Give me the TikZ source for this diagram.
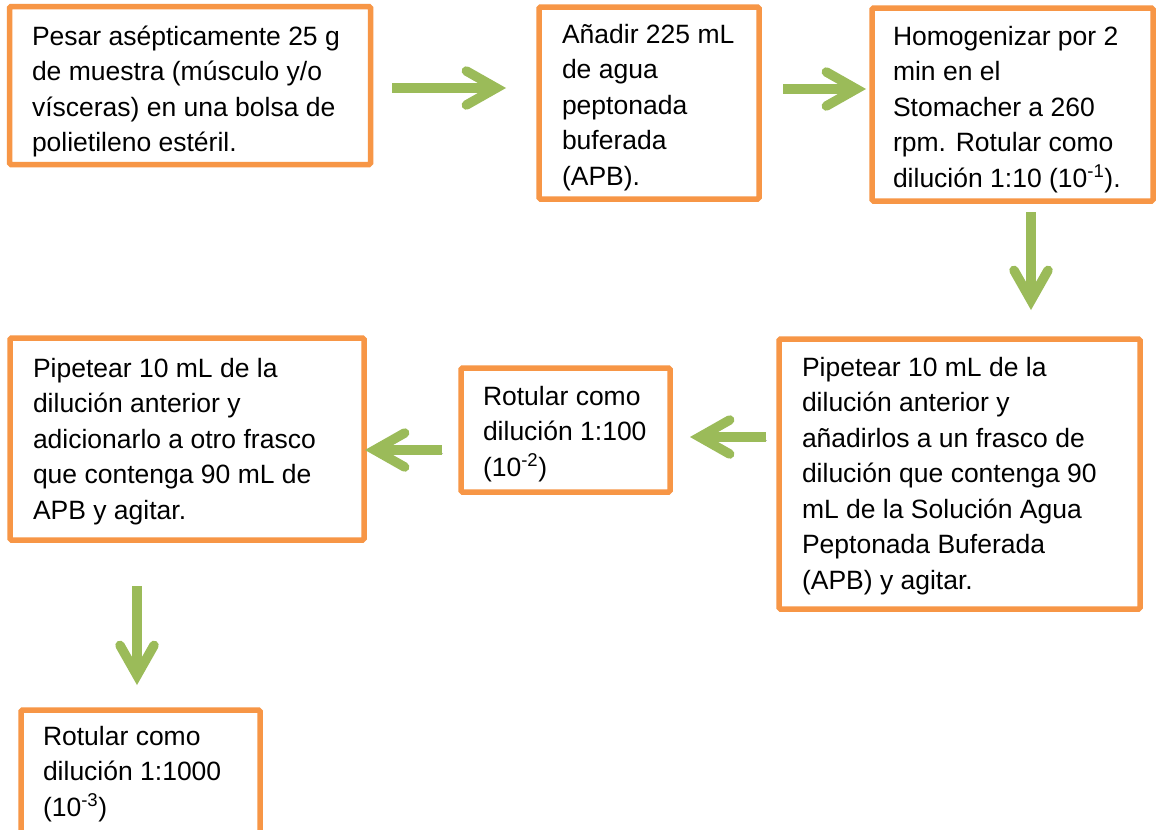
\documentclass[tikz,border=0pt]{standalone}
\usepackage{fontspec}
\setmainfont{Liberation Sans}
\usetikzlibrary{arrows.meta}
\definecolor{boxorange}{HTML}{F79646}
\definecolor{arrowgreen}{HTML}{9BBB59}
\begin{document}
\begin{tikzpicture}[x=1pt,y=-1pt,
  box/.style={draw=boxorange, line width=5.5pt, rounded corners=1.5pt, fill=white,
    inner sep=0pt, outer sep=0pt, anchor=north west},
  txt/.style={anchor=base west, inner sep=0pt, outer sep=0pt, align=left,
    font=\fontsize{26.5}{35.5}\selectfont},
  flow/.style={draw=arrowgreen, line width=9.5pt,
    -{Straight Barb[length=30pt, width=34pt, line cap=round, line join=miter]}},
  hshadow/.style={preaction={draw=black, draw opacity=0.25,
    transform canvas={shift={(1pt,-3pt)}}}},
  vshadow/.style={preaction={draw=black, draw opacity=0.25,
    transform canvas={shift={(-3pt,-1pt)}}}}]
\useasboundingbox (0,0) rectangle (1157,830);
\fill[white] (0,0) rectangle (1157,830);

% boxes
\node[box, minimum width=361pt, minimum height=158pt] (b1) at (9.5,6.5) {};
\node[box, minimum width=220pt, minimum height=192pt] (b2) at (539,7) {};
\node[box, minimum width=281pt, minimum height=193pt] (b3) at (872,8) {};
\node[box, minimum width=361pt, minimum height=270pt] (b4) at (779,339) {};
\node[box, minimum width=209pt, minimum height=124pt] (b5) at (461,368) {};
\node[box, minimum width=354pt, minimum height=202pt] (b6) at (10,338) {};
\node[box, minimum width=239pt, minimum height=140pt] (b7) at (21,710) {};

% texts (anchored at the baseline of their last line)
\node[txt] (t1) at (32,151.5) {Pesar asépticamente 25 g\\de muestra (músculo y/o\\vísceras) en una bolsa de\\polietileno estéril.};
\node[txt] (t2) at (562,185) {Añadir 225 mL\\de agua\\peptonada\\buferada\\(APB).};
\node[txt] (t3) at (893,187) {Homogenizar por 2\\min en el\\Stomacher a 260\\rpm. Rotular como\\dilución 1:10 (10\textsuperscript{-1}).};
\node[txt] (t4) at (802,589) {Pipetear 10 mL de la\\dilución anterior y\\añadirlos a un frasco de\\dilución que contenga 90\\mL de la Solución Agua\\Peptonada Buferada\\(APB) y agitar.};
\node[txt] (t5) at (483,476) {Rotular como\\dilución 1:100\\(10\textsuperscript{-2})};
\node[txt] (t6) at (33,519) {Pipetear 10 mL de la\\dilución anterior y\\adicionarlo a otro frasco\\que contenga 90 mL de\\APB y agitar.};
\node[txt] (t7) at (43,816) {Rotular como\\dilución 1:1000\\(10\textsuperscript{-3})};

% arrow ends
\coordinate (a1s) at (392,88);   \coordinate (a1e) at (506,88);
\coordinate (a2s) at (783,89);   \coordinate (a2e) at (866,89);
\coordinate (a3s) at (1031,212); \coordinate (a3e) at (1031,310);
\coordinate (a4s) at (766,437);  \coordinate (a4e) at (690,437);
\coordinate (a5s) at (442,450);  \coordinate (a5e) at (365,450);
\coordinate (a6s) at (137,586);  \coordinate (a6e) at (137,685);

\draw[flow, hshadow] (a1s) -- (a1e);
\draw[flow, hshadow] (a2s) -- (a2e);
\draw[flow, vshadow] (a3s) -- (a3e);
\draw[flow, hshadow] (a4s) -- (a4e);
\draw[flow, hshadow] (a5s) -- (a5e);
\draw[flow, vshadow] (a6s) -- (a6e);
\end{tikzpicture}
\end{document}
